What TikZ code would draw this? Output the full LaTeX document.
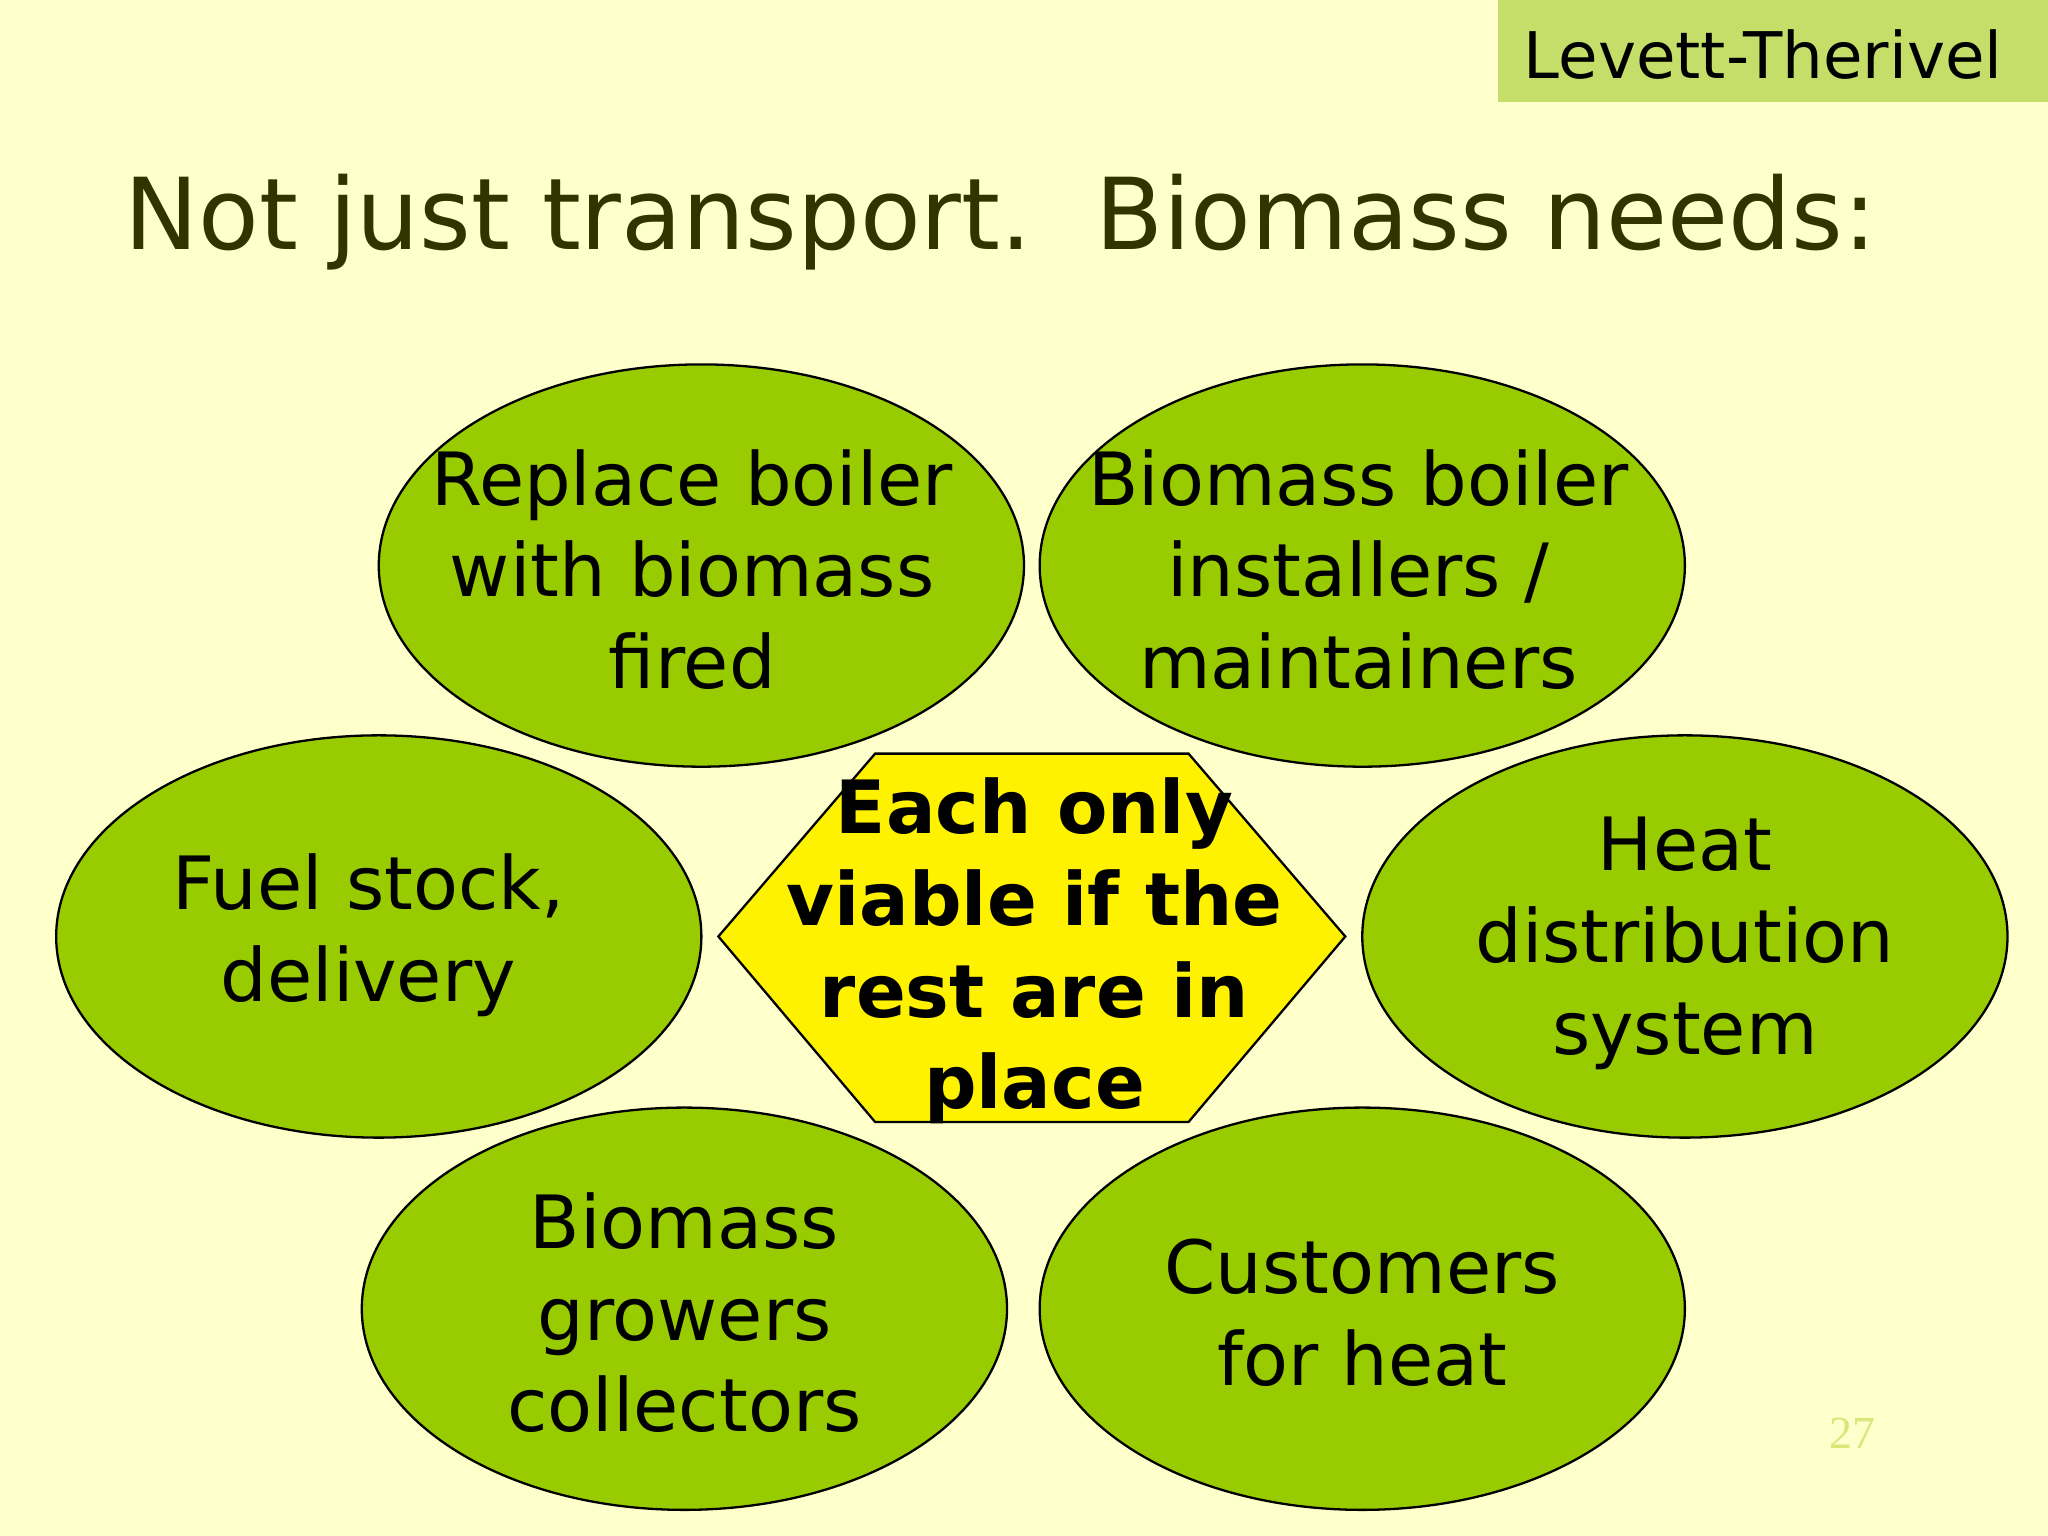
\documentclass[tikz,border=0pt]{standalone}
\usepackage{fontspec}
\setmainfont{DejaVu Sans}
\newfontfamily\pgserif{Liberation Serif}
\begin{document}
\begin{tikzpicture}[x=0.01cm,y=-0.01cm,
  btxt/.style={align=center,font=\fontsize{16}{20}\selectfont}]
\fill[fill={rgb,255:red,255;green,255;blue,204}] (0,0) rectangle (1568,1176);
\useasboundingbox (0,0) rectangle (1568,1176);
\fill[fill={rgb,255:red,197;green,222;blue,106}] (1147,0) rectangle (1568,78);
\node[font=\fontsize{14}{16}\selectfont] (lt) at (1350,42) {Levett-Therivel};
\node[font=\fontsize{21.6}{24}\selectfont,color={rgb,255:red,51;green,51;blue,0}] (title) at (766,170) {Not just transport.\ \ Biomass needs:};
\foreach \n/\x/\y in {a/537/433,b/1043/433,c/290/717,d/1290/717,e/524/1002,f/1043/1002}
  \draw[line width=0.5pt,fill={rgb,255:red,153;green,204;blue,0}] (\x,\y) ellipse [x radius=247,y radius=154];
\node[btxt] (ta) at (530,436) {Replace boiler\\with biomass\\fired};
\node[btxt] (tb) at (1040,436) {Biomass boiler\\installers /\\maintainers};
\node[btxt] (tc) at (282,716) {Fuel stock,\\delivery};
\node[btxt] (td) at (1290,722) {Heat\\distribution\\system};
\node[btxt] (te) at (524,1005) {Biomass\\growers\\collectors};
\node[btxt] (tf) at (1043,1005) {Customers\\for heat};
\draw[line width=0.5pt,fill=yellow] (550,717) -- (670,577) -- (910,577) -- (1030,717) -- (910,859) -- (670,859) -- cycle;
\node[btxt,font=\fontsize{16}{20}\selectfont\bfseries] (hx) at (792,728) {Each only\\viable if the\\rest are in\\place};
\node[font=\fontsize{10}{11}\selectfont\pgserif,color={rgb,255:red,220;green,230;blue,120}] (pg) at (1418,1097) {27};
\end{tikzpicture}
\end{document}
